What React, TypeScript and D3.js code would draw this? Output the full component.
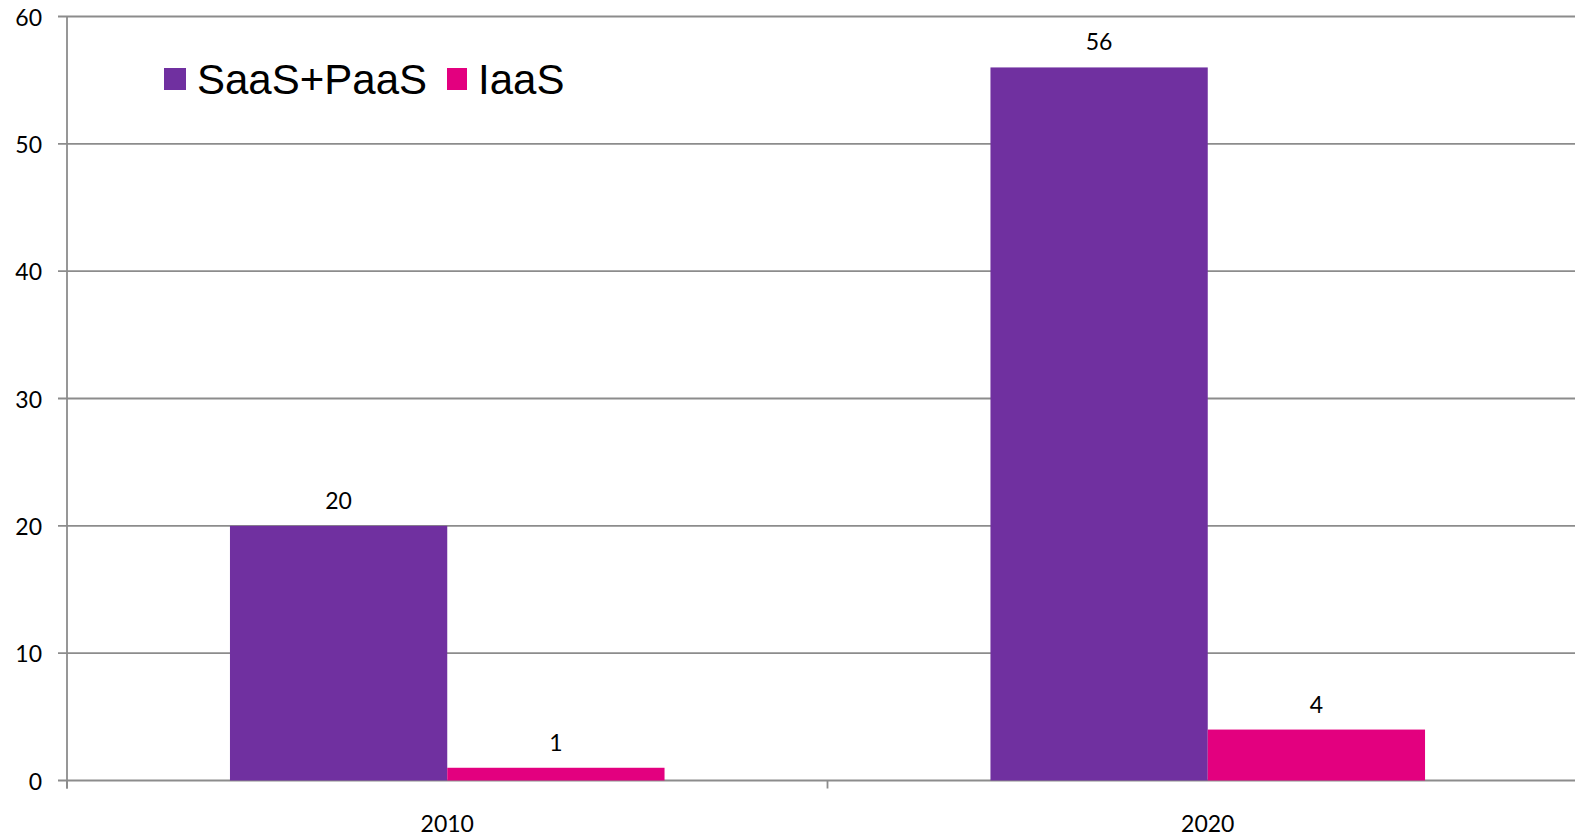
import React from "react";
import * as d3 from "d3";

const categories = ["2010", "2020"];
const seriesNames = ["SaaS+PaaS", "IaaS"];
const saasPaas = [20, 56];
const iaas = [1, 4];
const yTicks = [0, 10, 20, 30, 40, 50, 60];
const colors = ["#7030A0", "#E3007F"];

export default function App() {
  const W = 1575, H = 837;
  const left = 67, right = 1588, top = 16.5, bottom = 780.5;
  const x = d3.scaleBand<string>().domain(categories).range([left, right]).paddingInner(0).paddingOuter(0);
  const y = d3.scaleLinear().domain([0, 60]).range([bottom, top]);
  const bw = x.bandwidth();
  const barW = bw / 3.5;
  const series = [saasPaas, iaas];
  const numFont = "Lato, 'Open Sans', sans-serif";
  const fs = 23;
  return (
    <svg width={W} height={H} style={{ position: "absolute", left: 0, top: 0, background: "#fff" }}>
      {yTicks.map((t) => (
        <g key={t}>
          <line x1={left - 9} x2={right} y1={y(t)} y2={y(t)} stroke="#8c8c8c" strokeWidth={1.8} />
          <text x={42} y={y(t)} textAnchor="end" dominantBaseline="central" fontFamily={numFont} fontSize={fs} fill="#000">{t}</text>
        </g>
      ))}
      <line x1={left} x2={left} y1={top} y2={bottom + 8} stroke="#8c8c8c" strokeWidth={1.8} />
      {categories.map((c) => (
        <g key={c}>
          <line x1={x(c)!} x2={x(c)!} y1={bottom} y2={bottom + 8} stroke="#8c8c8c" strokeWidth={1.8} />
          <text x={x(c)! + bw / 2} y={823} textAnchor="middle" dominantBaseline="central" fontFamily={numFont} fontSize={fs} fill="#000">{c}</text>
        </g>
      ))}
      {categories.map((c, i) =>
        series.map((s, j) => {
          const x0 = x(c)! + bw / 2 - barW + j * barW;
          const v = s[i];
          return (
            <g key={c + j}>
              <rect x={x0} y={y(v)} width={barW} height={y(0) - y(v)} fill={colors[j]} />
              <text x={x0 + barW / 2} y={y(v) - 26} textAnchor="middle" dominantBaseline="central" fontFamily={numFont} fontSize={fs} fill="#000">{v}</text>
            </g>
          );
        })
      )}
      <g>
        <rect x={164} y={68} width={22} height={22} fill={colors[0]} />
        <text x={197} y={79} dominantBaseline="central" fontFamily="'Liberation Sans', Arial, sans-serif" fontSize={42} fill="#000">{seriesNames[0]}</text>
        <rect x={447} y={68} width={20} height={22} fill={colors[1]} />
        <text x={478} y={79} dominantBaseline="central" fontFamily="'Liberation Sans', Arial, sans-serif" fontSize={42} fill="#000">{seriesNames[1]}</text>
      </g>
    </svg>
  );
}
